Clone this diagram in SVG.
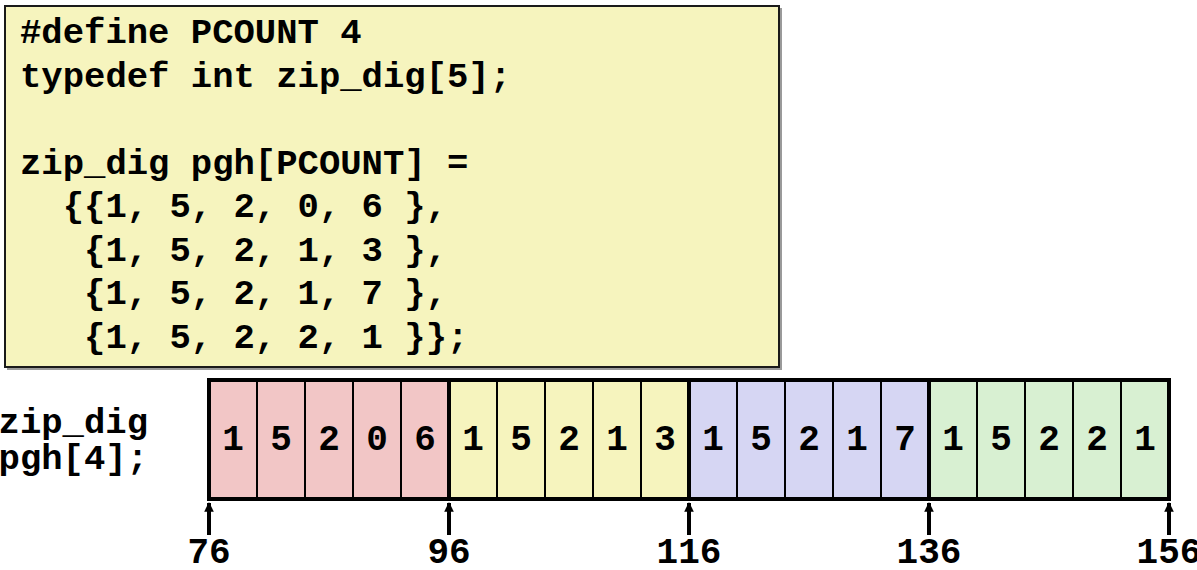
<svg xmlns="http://www.w3.org/2000/svg" width="1197" height="570" viewBox="0 0 1197 570">
<defs>
<style>
.code{font-family:"Liberation Mono","Courier New",monospace;font-weight:bold;font-size:35.6px;fill:#000;white-space:pre}
.lbl{font-family:"Liberation Mono","Courier New",monospace;font-weight:bold;font-size:35.6px;fill:#000}
.dig{font-family:"Liberation Mono","Courier New",monospace;font-weight:bold;font-size:36px;fill:#000;text-anchor:middle}
.thin{stroke:#000;stroke-width:2}
.seg{stroke:#000;stroke-width:4}
.arr{stroke:#000;stroke-width:4;fill:none;marker-end:url(#ah)}
</style>
<marker id="ah" viewBox="0 0 10 10" refX="9" refY="5" markerWidth="2.4" markerHeight="2.4" orient="auto" markerUnits="strokeWidth">
<path d="M0,0 L10,5 L0,10 z" fill="#000"/>
</marker>
</defs>
<g id="code-box">
<rect x="7" y="8" width="775" height="362" fill="#9a9a9a"/>
<rect x="5" y="6" width="774" height="361" fill="#F6F4BE" stroke="#1a1a1a" stroke-width="2"/>
<text class="code" x="20" y="43">#define PCOUNT 4</text>
<text class="code" x="20" y="86.5">typedef int zip_dig[5];</text>
<text class="code" x="20" y="173.5">zip_dig pgh[PCOUNT] =</text>
<text class="code" x="20" y="217">  {{1, 5, 2, 0, 6 },</text>
<text class="code" x="20" y="260.5">   {1, 5, 2, 1, 3 },</text>
<text class="code" x="20" y="304">   {1, 5, 2, 1, 7 },</text>
<text class="code" x="20" y="347.5">   {1, 5, 2, 2, 1 }};</text>
</g>
<g id="array-label">
<text class="lbl" x="148" y="433" text-anchor="end">zip_dig</text>
<text class="lbl" x="148" y="469" text-anchor="end">pgh[4];</text>
</g>
<g id="row0">
<rect x="209" y="380" width="240" height="119" fill="#F2C6C6"/>
<line class="thin" x1="257" y1="380" x2="257" y2="499"/>
<line class="thin" x1="305" y1="380" x2="305" y2="499"/>
<line class="thin" x1="353" y1="380" x2="353" y2="499"/>
<line class="thin" x1="401" y1="380" x2="401" y2="499"/>
<text class="dig" x="233" y="450">1</text>
<text class="dig" x="281" y="450">5</text>
<text class="dig" x="329" y="450">2</text>
<text class="dig" x="377" y="450">0</text>
<text class="dig" x="425" y="450">6</text>
</g>
<g id="row1">
<rect x="449" y="380" width="240" height="119" fill="#F6F4BE"/>
<line class="thin" x1="497" y1="380" x2="497" y2="499"/>
<line class="thin" x1="545" y1="380" x2="545" y2="499"/>
<line class="thin" x1="593" y1="380" x2="593" y2="499"/>
<line class="thin" x1="641" y1="380" x2="641" y2="499"/>
<text class="dig" x="473" y="450">1</text>
<text class="dig" x="521" y="450">5</text>
<text class="dig" x="569" y="450">2</text>
<text class="dig" x="617" y="450">1</text>
<text class="dig" x="665" y="450">3</text>
</g>
<g id="row2">
<rect x="689" y="380" width="240" height="119" fill="#D6D6F3"/>
<line class="thin" x1="737" y1="380" x2="737" y2="499"/>
<line class="thin" x1="785" y1="380" x2="785" y2="499"/>
<line class="thin" x1="833" y1="380" x2="833" y2="499"/>
<line class="thin" x1="881" y1="380" x2="881" y2="499"/>
<text class="dig" x="713" y="450">1</text>
<text class="dig" x="761" y="450">5</text>
<text class="dig" x="809" y="450">2</text>
<text class="dig" x="857" y="450">1</text>
<text class="dig" x="905" y="450">7</text>
</g>
<g id="row3">
<rect x="929" y="380" width="240" height="119" fill="#D8F0D2"/>
<line class="thin" x1="977" y1="380" x2="977" y2="499"/>
<line class="thin" x1="1025" y1="380" x2="1025" y2="499"/>
<line class="thin" x1="1073" y1="380" x2="1073" y2="499"/>
<line class="thin" x1="1121" y1="380" x2="1121" y2="499"/>
<text class="dig" x="953" y="450">1</text>
<text class="dig" x="1001" y="450">5</text>
<text class="dig" x="1049" y="450">2</text>
<text class="dig" x="1097" y="450">2</text>
<text class="dig" x="1145" y="450">1</text>
</g>
<g id="array-frame">
<rect x="209" y="380" width="960" height="119" fill="none" stroke="#000" stroke-width="4"/>
<line class="seg" x1="449" y1="380" x2="449" y2="499"/>
<line class="seg" x1="689" y1="380" x2="689" y2="499"/>
<line class="seg" x1="929" y1="380" x2="929" y2="499"/>
</g>
<g id="connectors">
<line class="arr" x1="209" y1="535" x2="209" y2="503"/>
<line class="arr" x1="449" y1="535" x2="449" y2="503"/>
<line class="arr" x1="689" y1="535" x2="689" y2="503"/>
<line class="arr" x1="929" y1="535" x2="929" y2="503"/>
<line class="arr" x1="1169" y1="535" x2="1169" y2="503"/>
</g>
<g id="addresses">
<text class="dig" x="209" y="563">76</text>
<text class="dig" x="449" y="563">96</text>
<text class="dig" x="689" y="563">116</text>
<text class="dig" x="929" y="563">136</text>
<text class="dig" x="1169" y="563">156</text>
</g>
</svg>
